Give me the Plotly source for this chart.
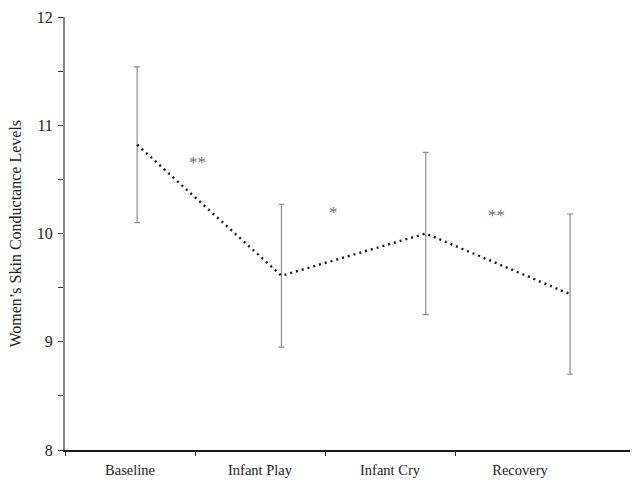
import plotly.graph_objects as go

categories = ["Baseline", "Infant Play", "Infant Cry", "Recovery"]
means = [10.82, 9.61, 10.00, 9.44]
errors = [0.72, 0.66, 0.75, 0.74]
sig_labels = ["**", "*", "**"]
sig_y = [10.66, 10.19, 10.17]
sig_x = [0.42, 1.36, 2.49]
y_ticks = [8, 9, 10, 11, 12]

FONT = "Liberation Serif"
OFF = 8  # default page body margin
W, H = 638 - OFF, 481 - OFF
ML, MR, MT, MB = 65 - OFF, 0, 17 - OFF, 31
plot_w = W - ML - MR

fig = go.Figure()
fig.add_trace(go.Scatter(
    x=categories, y=means, mode="lines",
    line=dict(color="#1a1a1a", width=2.4, dash="2px,4px"),
    error_y=dict(type="data", array=errors, visible=True, color="#8a8a8a",
                 thickness=1.2, width=3),
    xaxis="x2", yaxis="y", showlegend=False, hoverinfo="skip",
))

for lab, xx, yy in zip(sig_labels, sig_x, sig_y):
    fig.add_annotation(x=xx, y=yy, xref="x2", yref="y", text=lab, showarrow=False,
                       font=dict(family=FONT, size=17, color="#707070"))

fig.add_annotation(x=(15 - 65) / plot_w, y=0.5, xref="paper", yref="paper",
                   text="Women\u2019s Skin Conductance Levels", textangle=-90,
                   showarrow=False, xanchor="center", yanchor="middle",
                   font=dict(family=FONT, size=16, color="#222222"))

fig.update_layout(
    width=W, height=H,
    margin=dict(l=ML, r=MR, t=MT, b=MB),
    paper_bgcolor="white", plot_bgcolor="white",
    font=dict(family=FONT, size=14, color="#222222"),
    xaxis=dict(
        type="linear", range=[0, plot_w / 130.0],
        tickvals=[0.5, 1.5, 2.5, 3.5], ticktext=categories,
        ticks="", showgrid=False, zeroline=False,
        showline=True, linecolor="#1a1a1a", linewidth=1.5,
        ticklabelstandoff=6,
        minor=dict(tickvals=[0, 1, 2, 3], ticks="outside", ticklen=4,
                   tickcolor="#222222", tickwidth=1, showgrid=False),
        tickfont=dict(family=FONT, size=14.5, color="#222222"),
        fixedrange=True,
    ),
    xaxis2=dict(
        type="category", categoryorder="array", categoryarray=categories,
        range=[-0.5, -0.5 + plot_w / 144.3], overlaying="x", visible=False,
    ),
    yaxis=dict(
        range=[8, 12], tickvals=y_ticks, ticks="outside", ticklen=5,
        tickcolor="#333333", tickwidth=1.2,
        showgrid=False, zeroline=False,
        showline=True, linecolor="#888888", linewidth=2,
        ticklabelstandoff=2,
        minor=dict(dtick=0.5, ticks="outside", ticklen=5, tickcolor="#333333",
                   tickwidth=1.2, showgrid=False),
        tickfont=dict(family=FONT, size=16, color="#222222"),
    ),
    yaxis2=dict(
        range=[8, 12], tickvals=y_ticks, ticks="inside", ticklen=5,
        tickcolor="#333333", tickwidth=1.2, showticklabels=False,
        showgrid=False, zeroline=False, showline=False, overlaying="y",
        minor=dict(dtick=0.5, ticks="inside", ticklen=5, tickcolor="#333333",
                   tickwidth=1.2, showgrid=False),
    ),
)
# invisible trace so the overlaying y axis (inner tick halves) renders
fig.add_trace(go.Scatter(x=[None], y=[None], yaxis="y2", xaxis="x",
                         showlegend=False, hoverinfo="skip"))

fig.write_html("out.html")
